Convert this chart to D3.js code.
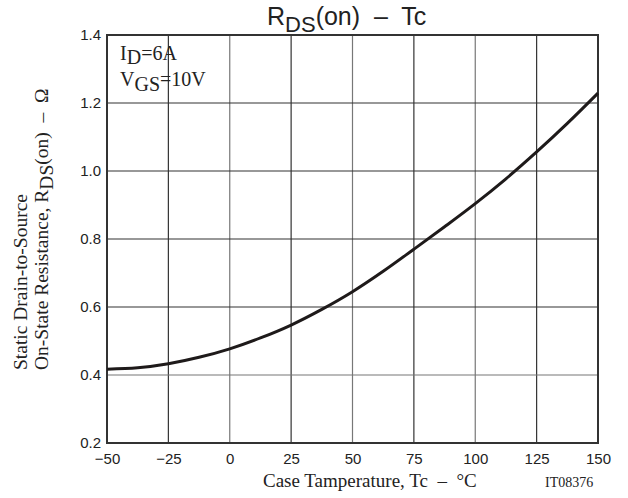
<!DOCTYPE html>
<html>
<head>
<meta charset="utf-8">
<script src="https://cdn.jsdelivr.net/npm/d3@7"></script>
<style>
  html, body { margin: 0; padding: 0; background: #fff; }
  svg { display: block; }
  text { white-space: pre; }
</style>
</head>
<body>
<svg id="chart" width="628" height="498"></svg>
<script>
// ---- data ----
const tempC = [-50, -37.5, -25, -12.5, 0, 12.5, 25, 37.5, 50, 62.5, 75, 87.5, 100, 112.5, 125, 137.5, 150];
const rdsOn = [0.417, 0.421, 0.433, 0.452, 0.477, 0.509, 0.547, 0.593, 0.645, 0.705, 0.770, 0.836, 0.904, 0.977, 1.056, 1.140, 1.229];
const xTicks = [-50, -25, 0, 25, 50, 75, 100, 125, 150];
const yTicks = [0.2, 0.4, 0.6, 0.8, 1.0, 1.2, 1.4];
const xTickLabels = ["\u221250", "\u221225", "0", "25", "50", "75", "100", "125", "150"];
const yTickLabels = ["0.2", "0.4", "0.6", "0.8", "1.0", "1.2", "1.4"];

const svg = d3.select("#chart");
const L = 107, R = 598, T = 35, B = 443;

const x = d3.scaleLinear().domain([-50, 150]).range([L, R]);
const y = d3.scaleLinear().domain([0.2, 1.4]).range([B, T]);

// grid
const g = svg.append("g");
g.selectAll("line.vx").data(xTicks.slice(1, -1)).enter().append("line")
  .attr("x1", d => x(d)).attr("x2", d => x(d)).attr("y1", T).attr("y2", B)
  .attr("stroke", (d, i) => i % 2 === 0 ? "#333" : "#777").attr("stroke-width", 1.2);
g.selectAll("line.hy").data(yTicks.slice(1, -1)).enter().append("line")
  .attr("x1", L).attr("x2", R).attr("y1", d => y(d)).attr("y2", d => y(d))
  .attr("stroke", (d, i) => i === 0 ? "#777" : "#333").attr("stroke-width", 1.2);

// border
svg.append("rect").attr("x", L).attr("y", T).attr("width", R - L).attr("height", B - T)
  .attr("fill", "none").attr("stroke", "#333").attr("stroke-width", 2);

// axes (labels only)
const xAxis = d3.axisBottom(x).tickValues(xTicks).tickSize(0).tickPadding(10)
  .tickFormat((d, i) => xTickLabels[i]);
const xa = svg.append("g").attr("transform", `translate(0,${B})`).call(xAxis);
xa.select(".domain").remove();
xa.selectAll("text").attr("font-family", "Liberation Sans, Arial, sans-serif")
  .attr("font-size", 15).attr("fill", "#222");

const yAxis = d3.axisLeft(y).tickValues(yTicks).tickSize(0).tickPadding(6)
  .tickFormat((d, i) => yTickLabels[i]);
const ya = svg.append("g").attr("transform", `translate(${L},0)`).call(yAxis);
ya.select(".domain").remove();
ya.selectAll("text").attr("font-family", "Liberation Sans, Arial, sans-serif")
  .attr("font-size", 15).attr("fill", "#222").attr("dy", "0.3em");

// curve
const line = d3.line().x((d, i) => x(tempC[i])).y(d => y(d)).curve(d3.curveCatmullRom.alpha(0.5));
svg.append("path").datum(rdsOn).attr("d", line)
  .attr("fill", "none").attr("stroke", "#1e1a1a").attr("stroke-width", 3);

// title
const title = svg.append("text").attr("x", 267).attr("y", 25)
  .attr("font-family", "Liberation Sans, Arial, sans-serif").attr("font-size", 25).attr("fill", "#222");
title.append("tspan").text("R");
title.append("tspan").attr("dy", 7).attr("font-size", 22).text("DS");
title.append("tspan").attr("dy", -7).text("(on)  \u2013  Tc");

// annotation
const serif = "Liberation Serif, Times New Roman, serif";
const a1 = svg.append("text").attr("x", 120).attr("y", 60).attr("font-family", serif)
  .attr("font-size", 20).attr("fill", "#222");
a1.append("tspan").text("I");
a1.append("tspan").attr("dy", 4).text("D");
a1.append("tspan").attr("dy", -4).text("=6A");
const a2 = svg.append("text").attr("x", 120).attr("y", 86).attr("font-family", serif)
  .attr("font-size", 20).attr("fill", "#222");
a2.append("tspan").text("V");
a2.append("tspan").attr("dy", 5).text("GS");
a2.append("tspan").attr("dy", -5).text("=10V");

// x label
svg.append("text").attr("x", 263).attr("y", 487).attr("font-family", serif)
  .attr("font-size", 19).attr("fill", "#222").text("Case Tamperature, Tc  \u2013  \u00B0C");
svg.append("text").attr("x", 545).attr("y", 487).attr("font-family", serif)
  .attr("font-size", 14).attr("fill", "#222").text("IT08376");

// y label
svg.append("text").attr("transform", "translate(27,370) rotate(-90)")
  .attr("font-family", serif).attr("font-size", 19.5).attr("fill", "#222")
  .text("Static Drain-to-Source");
const yl2 = svg.append("text").attr("transform", "translate(48,370) rotate(-90)")
  .attr("font-family", serif).attr("font-size", 19.5).attr("fill", "#222");
yl2.append("tspan").text("On-State Resistance, R");
yl2.append("tspan").attr("dy", 5).text("DS");
yl2.append("tspan").attr("dy", -5).text("(on)  \u2013  \u03A9");
</script>
</body>
</html>
